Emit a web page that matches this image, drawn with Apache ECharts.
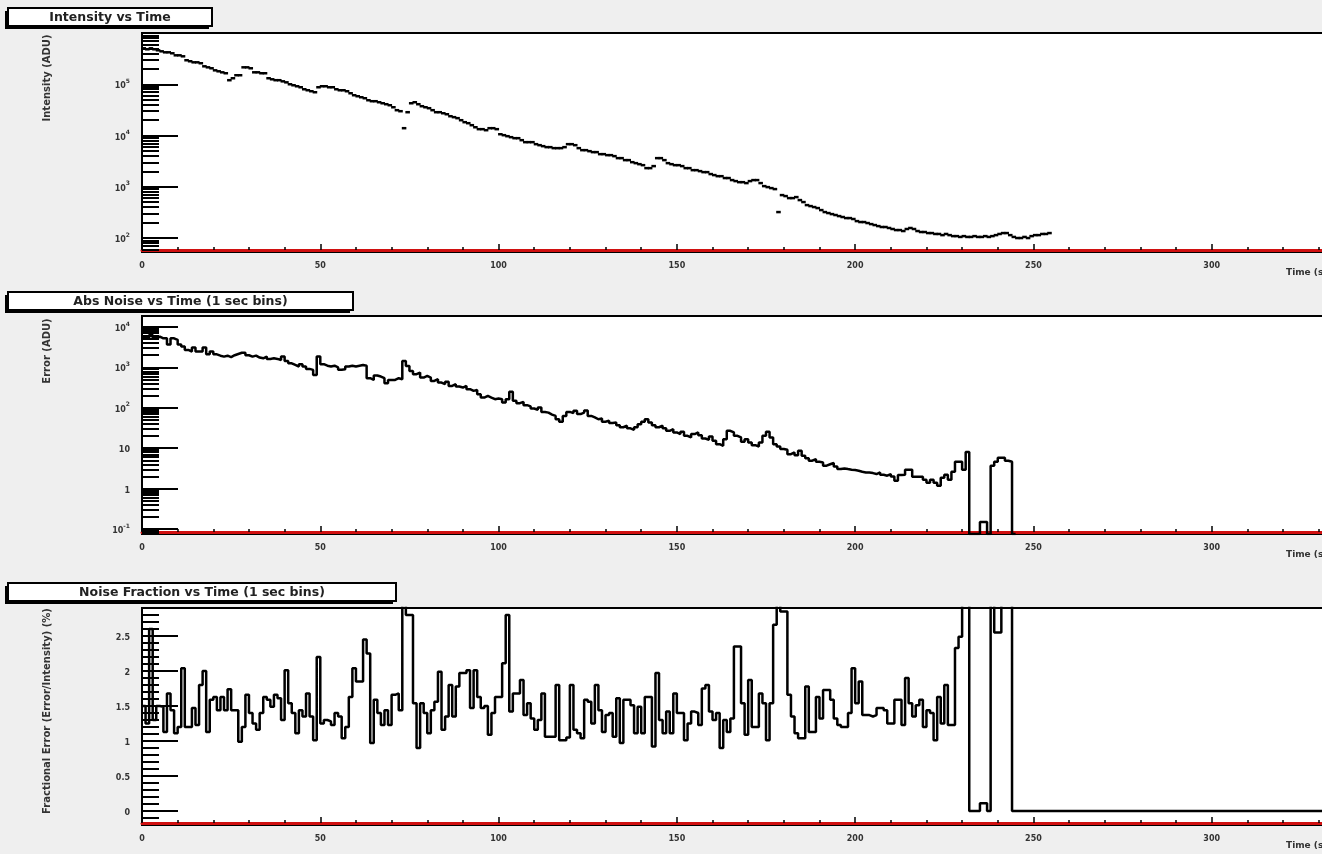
<!DOCTYPE html>
<html>
<head>
<meta charset="utf-8">
<title>Intensity / Noise vs Time</title>
<script src="https://cdn.jsdelivr.net/npm/echarts@6/dist/echarts.min.js"></script>
<style>
  html, body { margin: 0; padding: 0; background: #efefef; }
  #chart { width: 1322px; height: 854px; }
</style>
</head>
<body>
<div id="chart"></div>
<script>
// one value per 1 sec bin, bin i covers [i, i+1)
var intensity = [
  503000,481000,503000,481000,460000,439000,420000,420000,402000,367000,
  367000,351000,294000,281000,268000,268000,257000,224000,214000,205000,
  187000,179000,171000,164000,120000,131000,150000,150000,214000,214000,
  205000,171000,171000,164000,164000,131000,125000,120000,120000,114000,
  109000,100000,95600,91400,87400,79900,76400,73100,69900,87400,
  91400,91400,87400,87400,79900,76400,76400,73100,66800,61100,
  58400,55800,53400,48800,46700,46700,44600,42600,40800,39000,
  35600,31200,29800,13900,28500,42600,44600,40800,37300,35600,
  34100,31200,28500,28500,27200,26000,23800,22800,21800,19900,
  18200,17400,15900,14500,13300,13300,12700,13900,13900,13300,
  10600,10150,9700,9280,8870,8870,8110,7420,7420,7420,
  6780,6480,6200,5930,5930,5670,5670,5670,5930,6780,
  6780,6480,5670,5180,5180,4950,4740,4740,4330,4330,
  4140,4140,3960,3620,3620,3310,3310,3020,2890,2760,
  2640,2310,2310,2530,3620,3620,3310,2890,2760,2640,
  2640,2530,2310,2310,2110,2110,2020,1930,1930,1770,
  1690,1610,1610,1480,1480,1350,1290,1230,1230,1180,
  1290,1350,1350,1180,1030,985,942,901,321,688,
  658,601,601,629,550,503,439,420,402,384,
  351,321,307,293,281,268,257,245,245,235,
  214,205,205,196,187,179,171,164,164,157,
  150,143,143,137,150,157,150,137,131,131,
  125,125,120,120,114,120,114,109,109,105,
  109,105,105,109,105,105,109,105,109,114,
  120,125,125,114,105,100,100,105,100,109,
  114,114,120,120,125
];

var absNoise = [
  5600,5250,6300,5250,5800,5250,5250,3700,5250,4800,
  3700,3300,2700,2460,3100,2460,2460,3100,2110,2460,
  2100,1950,1850,1950,1800,2000,2150,2300,2300,2000,
  1850,1960,1750,1680,1850,1620,1680,1620,1530,1850,
  1445,1265,1150,1050,1200,1050,917,867,652,1850,
  1200,1100,1050,1100,1000,870,900,1050,1100,1050,
  1100,1150,1100,540,490,628,593,540,405,490,
  490,540,509,1445,1087,818,677,745,560,615,
  560,463,509,422,383,438,348,383,336,317,
  348,288,262,277,217,179,197,179,163,169,
  163,135,163,248,149,130,140,116,108,96,
  89,102,79,76,68,63,52,45,63,79,
  74,84,70,76,86,63,58,52,54,45,
  48,42,43,37,33,36,31,28.5,33,39,
  45,52,43,37,33,36,31,27,29.6,24.5,
  22.3,25.4,20.3,18.4,22.3,24.5,21,17.4,16.1,19.5,
  15.2,12.6,11.5,16.7,27,24.5,20.3,18.4,14.4,16.7,
  13.9,11.9,11.0,13.9,20.3,25.4,18.4,12.6,11.0,9.5,
  9.1,7.1,7.85,6.7,8.6,6.5,5.6,4.9,5.4,4.6,
  4.45,3.7,4.0,4.3,3.5,3.04,3.16,3.04,2.93,2.87,
  2.77,2.61,2.51,2.51,2.42,2.29,2.51,2.2,2.08,2.29,
  2.0,1.57,2.16,2.2,2.93,2.93,1.97,1.97,1.97,1.66,
  1.40,1.66,1.40,1.18,1.86,2.2,1.66,2.61,4.6,4.6,
  2.93,8.1,0,0,0,0.15,0.15,0,3.7,4.6,
  5.8,5.8,4.9,4.6,0
];

var noiseFrac = [
  1.5,1.25,2.6,1.3,1.5,1.49,1.13,1.68,1.44,1.11,
  1.2,2.04,1.2,1.2,1.47,1.23,1.8,2.0,1.13,1.59,
  1.63,1.44,1.63,1.44,1.74,1.44,1.44,0.99,1.2,1.66,
  1.4,1.25,1.16,1.4,1.63,1.59,1.49,1.66,1.61,1.3,
  2.01,1.54,1.4,1.11,1.44,1.35,1.68,1.35,1.01,2.2,
  1.25,1.3,1.28,1.23,1.4,1.35,1.04,1.2,1.63,2.04,
  1.85,1.85,2.45,2.25,0.97,1.59,1.4,1.23,1.44,1.23,
  1.66,1.68,1.44,3.2,2.8,2.8,1.54,0.9,1.54,1.4,
  1.11,1.44,1.56,1.99,1.16,1.35,1.8,1.35,1.78,1.97,
  1.97,2.01,1.47,2.01,1.63,1.47,1.5,1.09,1.4,1.63,
  1.63,2.11,2.8,1.42,1.68,1.68,1.87,1.37,1.54,1.32,
  1.16,1.3,1.68,1.06,1.06,1.06,1.8,1.01,1.01,1.05,
  1.8,1.16,1.11,1.04,1.59,1.56,1.25,1.8,1.44,1.13,
  1.37,1.4,1.06,1.61,0.97,1.59,1.59,1.51,1.11,1.49,
  1.11,1.63,1.63,0.92,1.97,1.3,1.11,1.42,1.11,1.68,
  1.4,1.4,1.01,1.25,1.42,1.4,1.23,1.75,1.8,1.42,
  1.3,1.4,0.9,1.3,1.13,1.32,2.35,2.35,1.54,1.09,
  1.87,1.2,1.2,1.68,1.54,1.01,1.54,2.66,3.1,2.85,
  2.85,1.66,1.35,1.11,1.04,1.04,1.78,1.13,1.13,1.63,
  1.32,1.73,1.73,1.59,1.32,1.23,1.2,1.2,1.4,2.04,
  1.54,1.85,1.37,1.37,1.35,1.37,1.47,1.47,1.44,1.25,
  1.25,1.59,1.59,1.23,1.9,1.54,1.35,1.51,1.59,1.2,
  1.44,1.4,1.01,1.63,1.25,1.8,1.23,1.23,2.33,2.49,
  3.2,3.5,0,0,0,0.11,0.11,0,3.2,2.55,
  2.55,3.1,3.3,3.2,0,0,0,0,0,0,
  0,0,0,0,0,0,0,0,0,0,
  0,0,0,0,0,0,0,0,0,0,
  0,0,0,0,0,0,0,0,0,0,
  0,0,0,0,0,0,0,0,0,0,
  0,0,0,0,0,0,0,0,0,0,
  0,0,0,0,0,0,0,0,0,0,
  0,0,0,0,0,0,0,0,0,0,
  0,0,0,0,0,0,0,0,0,0,
  0,0
];

// y tick values
var intensityMajor = [100, 1000, 10000, 100000];
var intensityMinor = [60,70,80,90, 200,300,400,500,600,700,800,900,
  2000,3000,4000,5000,6000,7000,8000,9000,
  20000,30000,40000,50000,60000,70000,80000,90000,
  200000,300000,400000,500000,600000,700000,800000,900000];
var noiseMajor = [0.1, 1, 10, 100, 1000, 10000];
var noiseMinor = [0.08,0.09, 0.2,0.3,0.4,0.5,0.6,0.7,0.8,0.9, 2,3,4,5,6,7,8,9,
  20,30,40,50,60,70,80,90, 200,300,400,500,600,700,800,900,
  2000,3000,4000,5000,6000,7000,8000,9000];
var fracMajor = [0, 0.5, 1, 1.5, 2, 2.5];
var fracMinor = [-0.1,0.1,0.2,0.3,0.4,0.6,0.7,0.8,0.9,1.1,1.2,1.3,1.4,1.6,1.7,1.8,1.9,
  2.1,2.2,2.3,2.4,2.6,2.7,2.8];

var titles = ['Intensity vs Time', 'Abs Noise vs Time (1 sec bins)', 'Noise Fraction vs Time (1 sec bins)'];
var yTitles = ['Intensity (ADU)', 'Error (ADU)', 'Fractional Error (Error/Intensity) (%)'];
var xTitle = 'Time (s)';

var chart = echarts.init(document.getElementById('chart'));

var panels = [
  { top: 33,  height: 219, type: 'log',   min: 53.4,   max: 1e6,   major: intensityMajor, minor: intensityMinor },
  { top: 316, height: 218, type: 'log',   min: 0.0752, max: 18700, major: noiseMajor,     minor: noiseMinor },
  { top: 608, height: 217, type: 'value', min: -0.2,   max: 2.9,   major: fracMajor,      minor: fracMinor }
];
var boxes = [[8, 8, 204, 18], [8, 292, 345, 18], [8, 583, 388, 18]];
var yTitleCenter = [78, 351, 711];

var FONT = '"DejaVu Sans"';
var labelFont = { color: '#333', fontSize: 8, fontWeight: 'bold', fontFamily: 'DejaVu Sans' };

function logLabel(v) {
  var k = Math.round(Math.log10(v));
  if (k === 0) return '{b|1}';
  if (k === 1) return '{b|10}';
  return '{b|10}{s|' + k + '}';
}

var grids = [], xAxes = [], yAxes = [], series = [], graphics = [];

panels.forEach(function (p, i) {
  grids.push({
    left: 142, top: p.top, width: 1248, height: p.height,
    outerBoundsMode: 'none', containLabel: false,
    show: true, backgroundColor: '#fff', borderColor: '#000', borderWidth: 2
  });
  xAxes.push({
    type: 'value', gridIndex: i, min: 0, max: 350, interval: 50, offset: -2,
    axisLine: { onZero: false, lineStyle: { color: '#d01010', width: 3 } },
    axisTick: { inside: true, length: 6, lineStyle: { color: '#000', width: 1.5 } },
    minorTick: { show: true, splitNumber: 5, length: 3, lineStyle: { color: '#000', width: 1.5 } },
    axisLabel: Object.assign({ margin: 12 }, labelFont),
    splitLine: { show: false }
  });
  var isLog = p.type === 'log';
  var yBase = {
    type: p.type, gridIndex: i, min: p.min, max: p.max, position: 'left', offset: 0,
    splitLine: { show: false }, minorTick: { show: false }
  };
  if (isLog) yBase.logBase = 10;
  yAxes.push(Object.assign({}, yBase, {
    axisLine: { show: true, onZero: false, lineStyle: { color: '#000', width: 2 } },
    axisTick: { inside: true, length: 36, customValues: p.major, lineStyle: { color: '#000', width: 2 } },
    axisLabel: {
      margin: 12, customValues: p.major,
      formatter: isLog ? logLabel : function (v) { return '{b|' + v + '}'; },
      rich: {
        b: { color: '#333', fontSize: 8, fontWeight: 'bold', fontFamily: 'DejaVu Sans', lineHeight: 12, verticalAlign: 'bottom' },
        s: { color: '#333', fontSize: 6, fontWeight: 'bold', fontFamily: 'DejaVu Sans', verticalAlign: 'top' }
      }
    }
  }));
  yAxes.push(Object.assign({}, yBase, {
    axisLine: { show: false, onZero: false },
    axisTick: { inside: true, length: 17, customValues: p.minor, lineStyle: { color: '#000', width: 2 } },
    axisLabel: { show: false }
  }));

  // title box with shadow
  var b = boxes[i];
  graphics.push({ type: 'rect', shape: { x: b[0] - 3, y: b[1] + 3, width: b[2], height: b[3] }, style: { fill: '#000' } });
  graphics.push({ type: 'rect', shape: { x: b[0], y: b[1], width: b[2], height: b[3] }, style: { fill: '#fff', stroke: '#000', lineWidth: 2 } });
  graphics.push({ type: 'text', x: b[0] + b[2] / 2, y: b[1] + b[3] / 2 + 0.5,
    style: { text: titles[i], font: 'bold 12.5px ' + FONT, fill: '#222', textAlign: 'center', textVerticalAlign: 'middle' } });
  graphics.push({ type: 'text', x: 47, y: yTitleCenter[i], rotation: Math.PI / 2,
    style: { text: yTitles[i], font: 'bold 10px ' + FONT, fill: '#333', textAlign: 'center', textVerticalAlign: 'middle' } });
  graphics.push({ type: 'text', x: 1286, y: p.top + p.height + 21,
    style: { text: xTitle, font: 'bold 9px ' + FONT, fill: '#333', textAlign: 'left', textVerticalAlign: 'middle' } });
});

// panel 1: one horizontal mark per bin, not joined
series.push({
  type: 'custom', xAxisIndex: 0, yAxisIndex: 0, clip: true,
  data: intensity.map(function (v, t) { return [t, v]; }),
  renderItem: function (params, api) {
    var t = api.value(0), v = api.value(1);
    var a = api.coord([t, v]), c = api.coord([t + 1, v]);
    return { type: 'line', shape: { x1: a[0] - 0.5, y1: a[1], x2: c[0] + 0.5, y2: c[1] }, style: { stroke: '#000', lineWidth: 2.5 } };
  }
});

function stepData(arr, floor) {
  var d = arr.map(function (v, t) { return [t, v > 0 ? v : floor]; });
  d.push([arr.length, d[d.length - 1][1]]);
  return d;
}

series.push({
  type: 'line', xAxisIndex: 1, yAxisIndex: 2, step: 'end', showSymbol: false, clip: true,
  lineStyle: { color: '#000', width: 2.5 },
  data: stepData(absNoise, panels[1].min)
});
series.push({
  type: 'line', xAxisIndex: 2, yAxisIndex: 4, step: 'end', showSymbol: false, clip: true,
  lineStyle: { color: '#000', width: 2.5 },
  data: stepData(noiseFrac, 0)
});

chart.setOption({
  backgroundColor: '#efefef',
  animation: false,
  grid: grids,
  xAxis: xAxes,
  yAxis: yAxes,
  series: series,
  graphic: graphics
});
</script>
</body>
</html>
